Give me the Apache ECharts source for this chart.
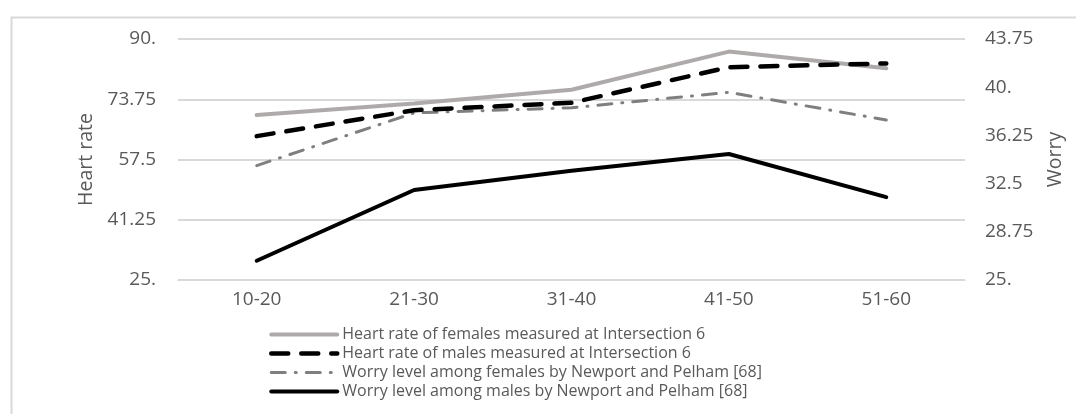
<!DOCTYPE html>
<html>
<head>
<meta charset="utf-8">
<script src="https://cdn.jsdelivr.net/npm/echarts@6/dist/echarts.min.js"></script>
<style>
html,body{margin:0;padding:0;background:#fff;}
#chart{width:1076px;height:414px;}
</style>
</head>
<body>
<div id="chart"></div>
<script>
const categories = ['10-20', '21-30', '31-40', '41-50', '51-60'];
const heartFemales = [69.5, 72.6, 76.3, 86.6, 82.1];
const heartMales = [63.8, 70.8, 72.8, 82.4, 83.4];
const worryFemales = [33.9, 38.0, 38.4, 39.6, 37.45];
const worryMales = [26.5, 32.0, 33.5, 34.8, 31.45];
const seriesNames = [
  'Heart rate of females measured at Intersection 6',
  'Heart rate of males measured at Intersection 6',
  'Worry level among females by Newport and Pelham [68]',
  'Worry level among males by Newport and Pelham [68]'
];
const leftTicks = [25, 41.25, 57.5, 73.75, 90];
const rightTicks = [25, 28.75, 32.5, 36.25, 40, 43.75];

const FONT = 'Open Sans';
const TXT = '#595959';
const fmt = v => Number.isInteger(v) ? v + '.' : String(v);

const styles = [
  {color: '#AEAAAA', width: 4, type: 'solid'},
  {color: '#000000', width: 4.5, type: [17, 13]},
  {color: '#7F7F7F', width: 3, type: [14, 10, 1, 10]},
  {color: '#000000', width: 4, type: 'solid'}
];

const chart = echarts.init(document.getElementById('chart'));
chart.setOption({
  animation: false,
  textStyle: {fontFamily: FONT},
  graphic: [{
    type: 'rect', left: 9, top: 15,
    shape: {width: 1100, height: 500},
    style: {fill: 'none', stroke: '#d9d9d9', lineWidth: 2},
    silent: true, z: -1
  }],
  grid: {left: 178, right: 111, top: 39, bottom: 134},
  legend: {
    orient: 'vertical', left: 264, top: 321,
    itemWidth: 66, itemHeight: 14, itemGap: 2,
    itemStyle: {opacity: 0},
    textStyle: {fontFamily: FONT, fontSize: 16, color: TXT, lineHeight: 17},
    data: seriesNames.map((n, i) => ({
      name: n,
      lineStyle: {width: styles[i].width, color: styles[i].color, type: styles[i].type, cap: 'round'}
    }))
  },
  xAxis: {
    type: 'category', data: categories, boundaryGap: true,
    axisLine: {lineStyle: {color: '#d9d9d9', width: 1}},
    axisTick: {show: false},
    axisLabel: {fontFamily: FONT, fontSize: 19, color: TXT, margin: 10}
  },
  yAxis: [{
    type: 'value', min: leftTicks[0], max: leftTicks[leftTicks.length - 1],
    interval: leftTicks[1] - leftTicks[0],
    name: 'Heart rate', nameLocation: 'middle', nameGap: 80,
    nameTextStyle: {fontFamily: FONT, fontSize: 19.5, color: TXT},
    axisLine: {show: false}, axisTick: {show: false},
    splitLine: {lineStyle: {color: '#d9d9d9', width: 2}},
    axisLabel: {fontFamily: FONT, fontSize: 19, color: TXT, margin: 22, formatter: fmt}
  }, {
    type: 'value', min: rightTicks[0], max: rightTicks[rightTicks.length - 1],
    interval: rightTicks[1] - rightTicks[0],
    name: 'Worry', nameLocation: 'middle', nameGap: 80,
    nameTextStyle: {fontFamily: FONT, fontSize: 19.5, color: TXT},
    axisLine: {show: false}, axisTick: {show: false},
    splitLine: {show: false},
    axisLabel: {fontFamily: FONT, fontSize: 19, color: TXT, margin: 20, formatter: fmt}
  }],
  series: [{
    name: seriesNames[0], type: 'line', yAxisIndex: 0, data: heartFemales,
    symbol: 'none', lineStyle: Object.assign({cap: 'round'}, styles[0]),
    itemStyle: {color: styles[0].color}, z: 2
  }, {
    name: seriesNames[1], type: 'line', yAxisIndex: 0, data: heartMales,
    symbol: 'none', lineStyle: Object.assign({cap: 'round'}, styles[1]),
    itemStyle: {color: styles[1].color}, z: 4
  }, {
    name: seriesNames[2], type: 'line', yAxisIndex: 1, data: worryFemales,
    symbol: 'none', lineStyle: Object.assign({cap: 'round'}, styles[2]),
    itemStyle: {color: styles[2].color}, z: 3
  }, {
    name: seriesNames[3], type: 'line', yAxisIndex: 1, data: worryMales,
    symbol: 'none', lineStyle: Object.assign({cap: 'round'}, styles[3]),
    itemStyle: {color: styles[3].color}, z: 5
  }]
});
</script>
</body>
</html>
